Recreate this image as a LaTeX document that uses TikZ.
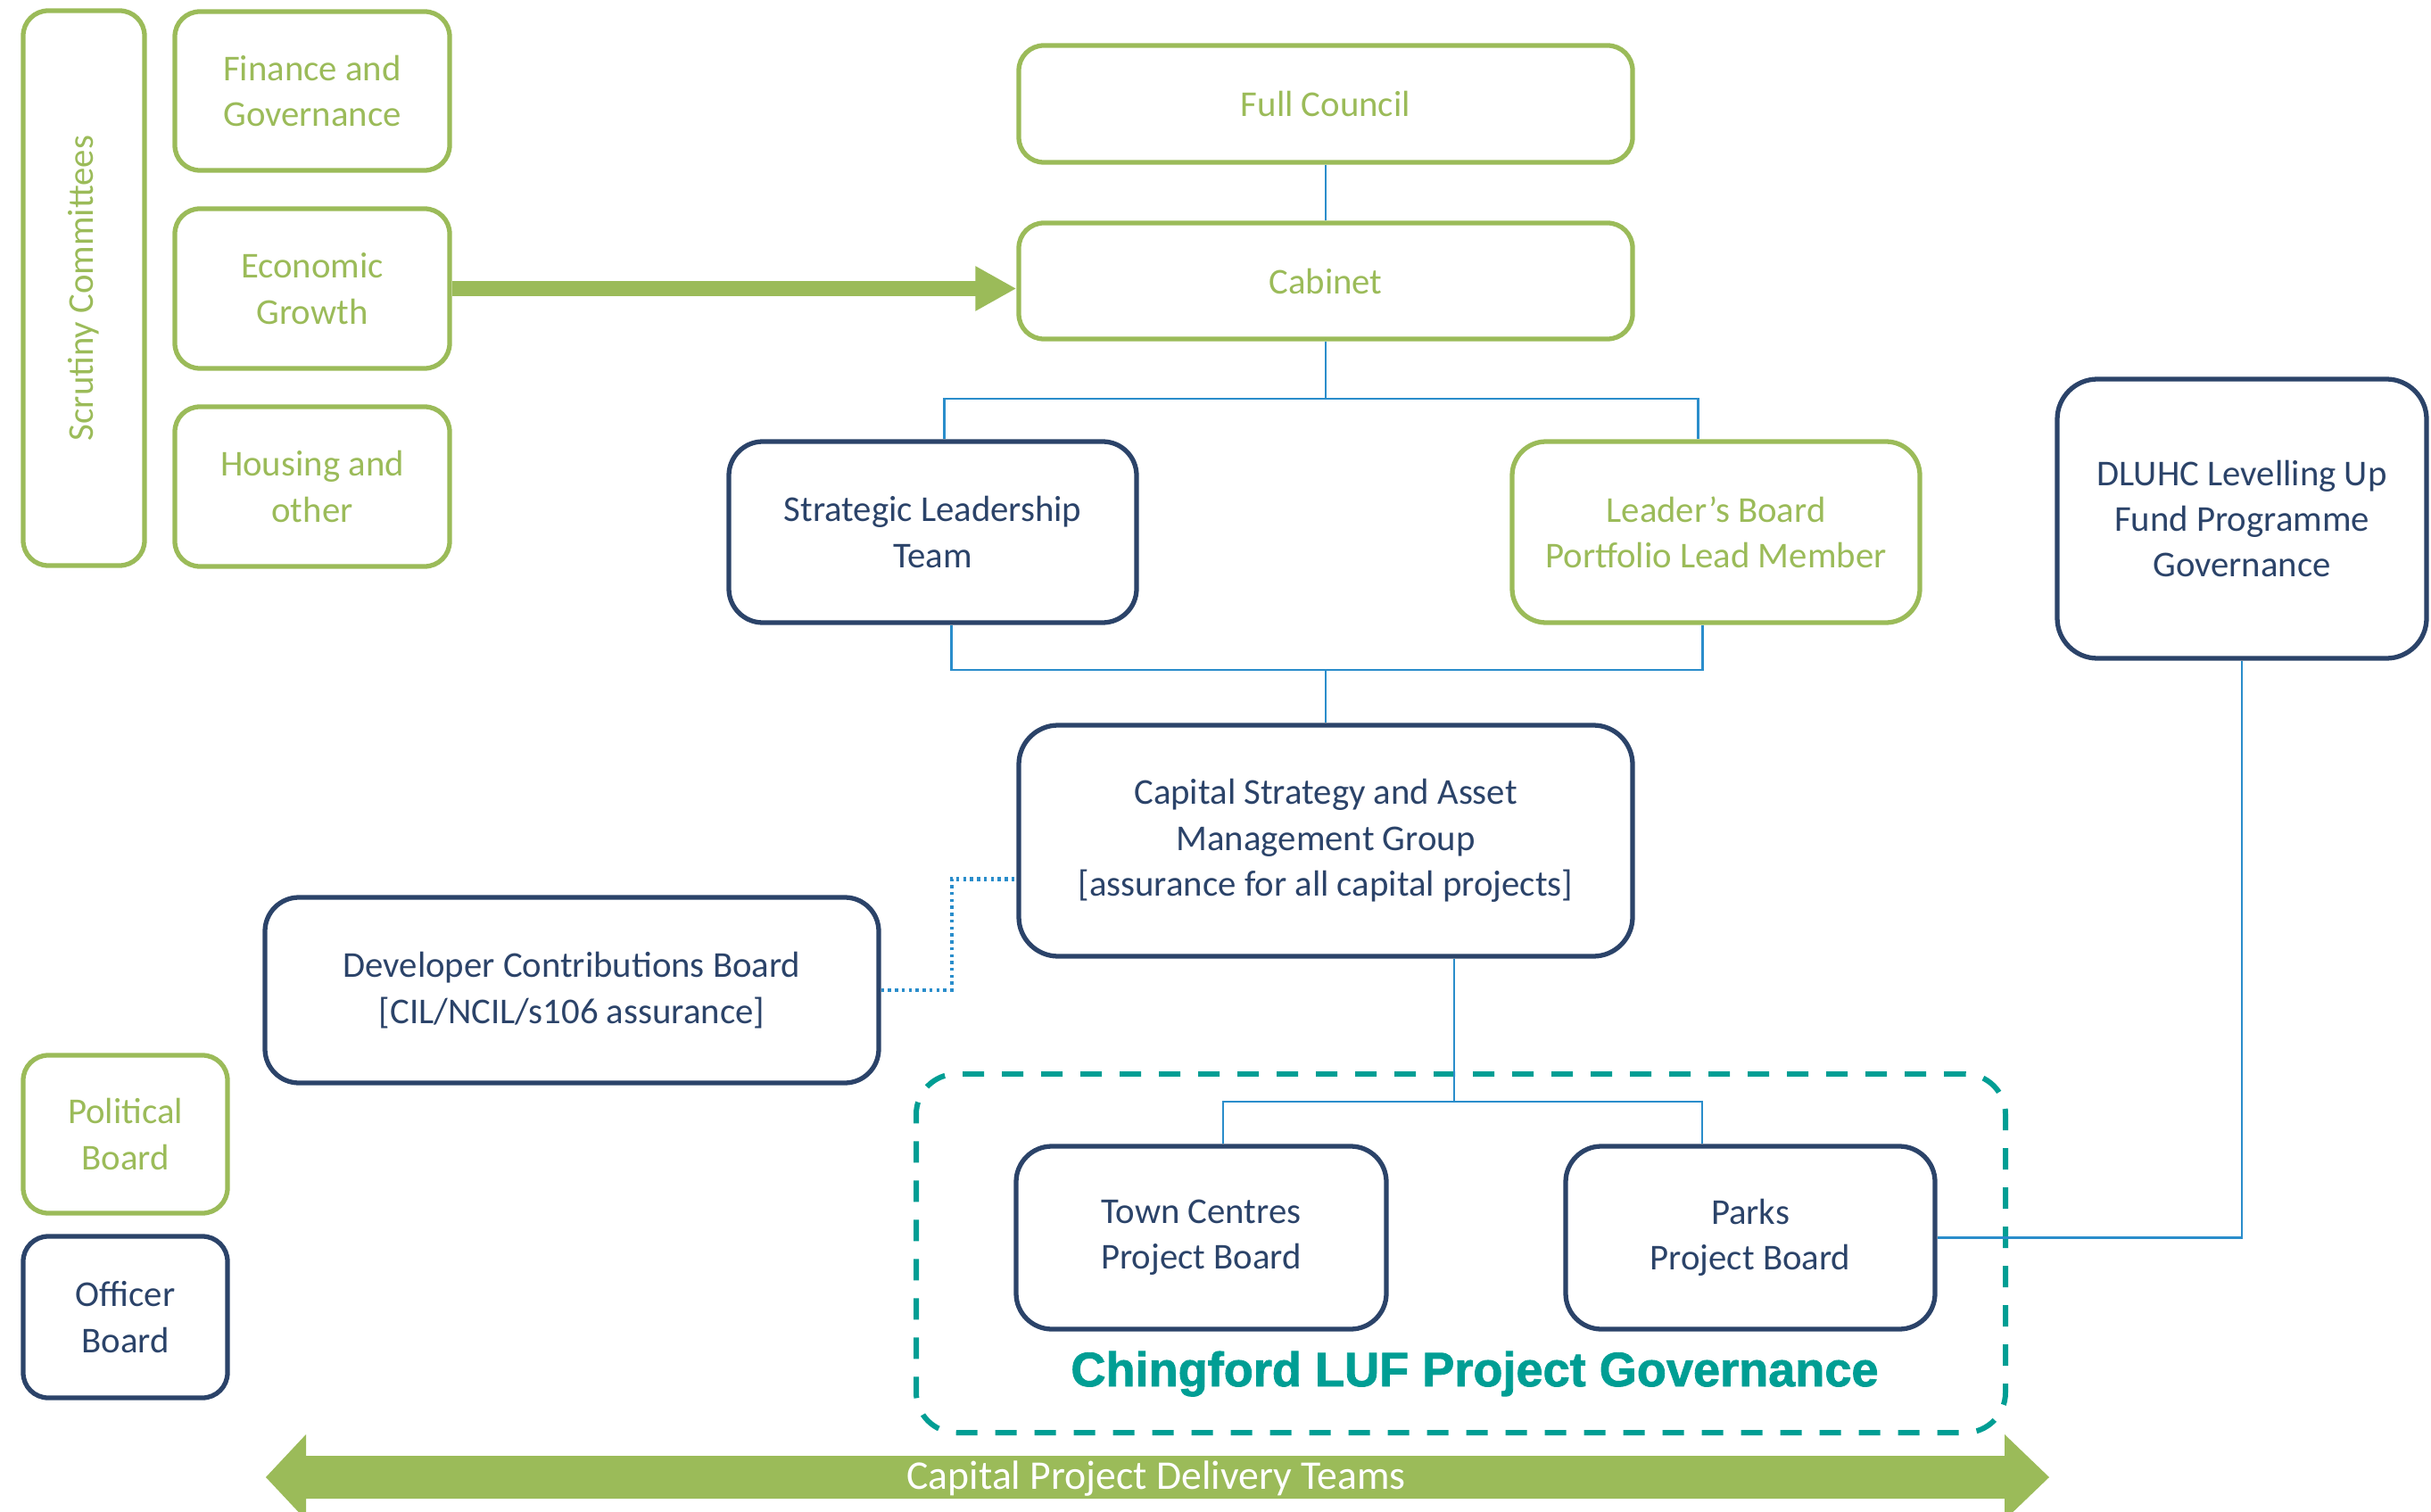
\documentclass[tikz,border=0pt]{standalone}
\usepackage{fontspec}
\setmainfont{Carlito}
\newfontfamily\luffont{Liberation Sans}[BoldFeatures={FakeBold=1.6}]
\usetikzlibrary{arrows.meta}
\definecolor{LBFGreen}{HTML}{9BBB59}
\definecolor{LBFNavy}{HTML}{2B4369}
\definecolor{LBFBlue}{HTML}{2A8DCB}
\definecolor{LBFTeal}{HTML}{009E94}

\begin{document}
\begin{tikzpicture}[x=1cm,y=1cm,
    board/.style={draw,rounded corners=0.28cm,line width=1.5pt,align=center,
      inner sep=0pt,font=\fontsize{11.6}{14.6}\selectfont},
    polboard/.style={board,draw=LBFGreen,text=LBFGreen},
    offboard/.style={board,draw=LBFNavy,text=LBFNavy},
    link/.style={LBFBlue,line width=0.6pt},
    dotlink/.style={LBFBlue,line width=1.2pt,dash pattern=on 1pt off 1.2pt}]
    \useasboundingbox (0,0) rectangle (27.25,-16.95);
    \node[polboard,minimum width=1.36cm,minimum height=6.22cm] (scrutiny) at (0.94,-3.23)
      {\rotatebox{90}{Scrutiny Committees}};
    \node[polboard,minimum width=3.08cm,minimum height=1.78cm] (finance) at (3.50,-1.02)
      {Finance and\\Governance};
    \node[polboard,minimum width=3.08cm,minimum height=1.79cm] (economic) at (3.50,-3.235)
      {Economic\\Growth};
    \node[polboard,minimum width=3.08cm,minimum height=1.79cm] (housing) at (3.50,-5.455)
      {Housing and\\other};
    \node[polboard,minimum width=6.88cm,minimum height=1.31cm] (council) at (14.86,-1.165)
      {Full Council};
    \node[polboard,minimum width=6.88cm,minimum height=1.30cm] (cabinet) at (14.86,-3.15)
      {Cabinet};
    \node[offboard,rounded corners=0.38cm,minimum width=4.57cm,minimum height=2.03cm] (slt)
      at (10.455,-5.965) {Strategic Leadership\\Team};
    \node[polboard,rounded corners=0.38cm,minimum width=4.57cm,minimum height=2.03cm] (leader)
      at (19.235,-5.965) {Leader’s Board\\Portfolio Lead Member};
    \node[offboard,rounded corners=0.44cm,minimum width=6.88cm,minimum height=2.59cm] (csamg)
      at (14.86,-9.425) {Capital Strategy and Asset\\Management Group\\{[assurance for all capital projects]}};
    \node[offboard,rounded corners=0.45cm,minimum width=4.14cm,minimum height=3.13cm] (dluhc)
      at (25.13,-5.815) {DLUHC Levelling Up\\Fund Programme\\Governance};
    \node[offboard,rounded corners=0.38cm,minimum width=6.88cm,minimum height=2.08cm] (dcb)
      at (6.41,-11.10) {Developer Contributions Board\\{[CIL/NCIL/s106 assurance]}};
    \node[polboard,minimum width=2.29cm,minimum height=1.77cm] (political) at (1.405,-12.715)
      {Political\\Board};
    \node[offboard,minimum width=2.29cm,minimum height=1.81cm] (officer) at (1.405,-14.765)
      {Officer\\Board};
    \node[draw=LBFTeal,line width=1.7pt,dash pattern=on 0.24cm off 0.2cm,rounded corners=0.45cm,
      minimum width=12.21cm,minimum height=4.02cm] (luf) at (16.375,-14.05) {};
    \node[offboard,rounded corners=0.4cm,minimum width=4.15cm,minimum height=2.05cm] (town)
      at (13.465,-13.875) {Town Centres\\Project Board};
    \node[offboard,rounded corners=0.4cm,minimum width=4.14cm,minimum height=2.05cm] (parks)
      at (19.62,-13.875) {Parks\\Project Board};
    \node[anchor=base,text=LBFTeal,font=\luffont\bfseries\fontsize{15.4}{18}\selectfont] (luftitle)
      at (16.53,-15.54) {Chingford LUF Project Governance};
    \draw[LBFGreen,line width=0.17cm,-{Triangle[length=0.46cm,width=0.47cm]}]
      (economic.east) -- (economic.east -| cabinet.west);
    \draw[link] (council.south) -- (cabinet.north);
    \draw[link] (cabinet.south) -- ++(0,-0.64) coordinate (cabsplit) -| ([xshift=0.13cm]slt.north);
    \draw[link] (cabsplit) -| ([xshift=-0.2cm]leader.north);
    \draw[link] ([xshift=0.21cm]slt.south) -- ++(0,-0.50) coordinate (sltjoin)
      -| ([xshift=-0.15cm]leader.south);
    \draw[link] (csamg.north) -- (csamg.north |- sltjoin);
    \draw[link] ([xshift=1.44cm]csamg.south) -- ++(0,-1.60) coordinate (lufsplit);
    \draw[link] ([xshift=0.245cm]town.north) |- (lufsplit) -| ([xshift=-0.54cm]parks.north);
    \draw[link] (parks.east) -| (dluhc.south);
    \draw[dotlink] (dcb.east) -- ++(0.79,0) |- ([yshift=-0.43cm]csamg.west);
    \fill[LBFGreen] (2.98,-16.56) -- (3.43,-16.08) -- (3.43,-16.32) -- (22.47,-16.32)
      -- (22.47,-16.08) -- (22.97,-16.56) -- (22.47,-17.04) -- (22.47,-16.80)
      -- (3.43,-16.80) -- (3.43,-17.04) -- cycle;
    \node[text=white,font=\fontsize{13}{15}\selectfont] (delivery) at (12.96,-16.58)
      {Capital Project Delivery Teams};
  \end{tikzpicture}
\end{document}
